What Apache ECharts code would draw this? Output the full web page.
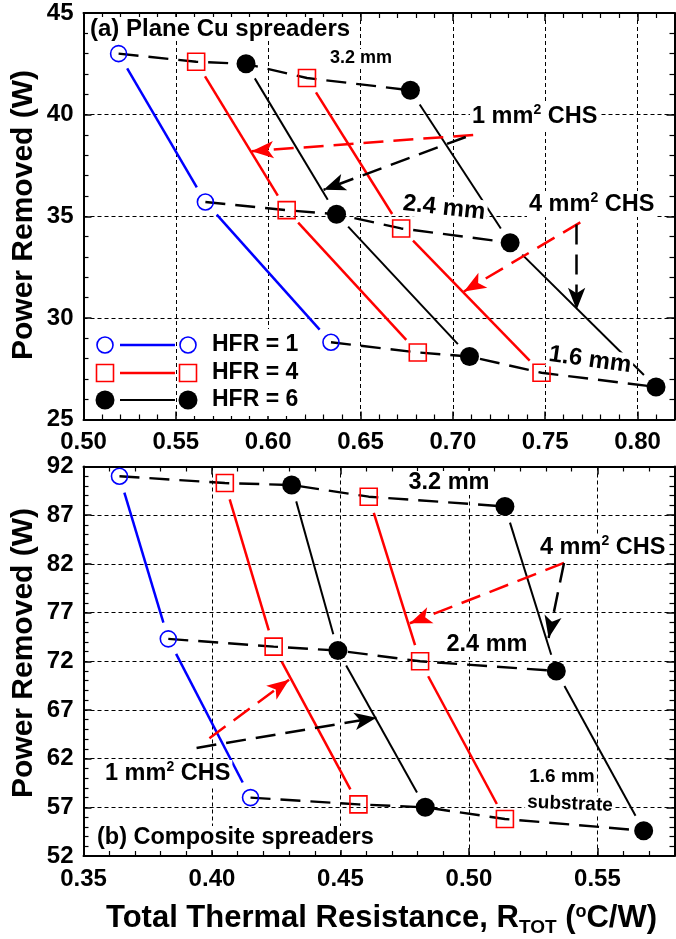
<!DOCTYPE html>
<html>
<head>
<meta charset="utf-8">
<script src="https://cdn.jsdelivr.net/npm/echarts@6/dist/echarts.min.js"></script>
<style>
html, body { margin: 0; padding: 0; background: #fff; }
#chart { width: 676px; height: 939px; }
</style>
</head>
<body>
<div id="chart"></div>
<script>
// (a) plane Cu spreaders, points ordered 3.2 / 2.4 / 1.6 mm substrate: [R_TOT, power]
const aHfr1 = [[0.519, 43.0], [0.566, 35.7], [0.634, 28.8]];
const aHfr4Chs1 = [[0.561, 42.6], [0.610, 35.3], [0.681, 28.3]];
const aHfr6Chs1 = [[0.588, 42.5], [0.637, 35.1], [0.709, 28.1]];
const aHfr4Chs4 = [[0.621, 41.8], [0.672, 34.4], [0.748, 27.3]];
const aHfr6Chs4 = [[0.677, 41.2], [0.731, 33.7], [0.810, 26.6]];
// (b) composite spreaders
const bHfr1 = [[0.364, 91.0], [0.383, 74.3], [0.415, 58.0]];
const bHfr4Chs1 = [[0.405, 90.3], [0.424, 73.5], [0.457, 57.3]];
const bHfr6Chs1 = [[0.431, 90.1], [0.449, 73.1], [0.483, 57.0]];
const bHfr4Chs4 = [[0.461, 88.9], [0.481, 72.0], [0.514, 55.8]];
const bHfr6Chs4 = [[0.514, 87.9], [0.534, 71.0], [0.568, 54.6]];

// annotation arrows [from, to]
const aArrowsRed = [[[0.711, 39.0], [0.591, 38.2]], [[0.769, 34.7], [0.706, 31.3]]];
const aArrowsBlack = [[[0.707, 38.9], [0.630, 36.3]], [[0.767, 34.6], [0.767, 30.4]]];
const bArrowsRed = [[[0.537, 82.1], [0.477, 75.9]], [[0.399, 64.1], [0.430, 70.1]]];
const bArrowsBlack = [[[0.537, 82.1], [0.531, 74.4]], [[0.394, 63.1], [0.464, 66.2]]];

const FONT = '"Liberation Sans", Arial, sans-serif';
const BLUE = '#0000ff', RED = '#ff0000', BLACK = '#000000';
const GAP = 17;

const chart = echarts.init(document.getElementById('chart'));

function xAxes(grid, min, max) {
  const base = {
    gridIndex: grid, type: 'value', min: min, max: max, interval: 0.05,
    axisLine: { show: true, onZero: false, lineStyle: { color: BLACK, width: 2 } },
    axisTick: { show: true, inside: true, length: 8, lineStyle: { color: BLACK, width: 1.5 } },
    minorTick: { show: true, splitNumber: 5, length: 5, lineStyle: { color: BLACK, width: 1.2 } }
  };
  return [
    Object.assign({}, base, {
      position: 'bottom',
      axisLabel: { show: true, margin: 11, color: BLACK, fontFamily: FONT, fontWeight: 'bold', fontSize: 24,
        showMaxLabel: false, formatter: v => v.toFixed(2) },
      splitLine: { show: true, lineStyle: { color: BLACK, width: 1, type: [4, 3] } }
    }),
    Object.assign({}, base, { position: 'top', axisLabel: { show: false }, splitLine: { show: false } })
  ];
}

function yAxes(grid, min, max) {
  const base = {
    gridIndex: grid, type: 'value', min: min, max: max, interval: 5,
    axisLine: { show: true, onZero: false, lineStyle: { color: BLACK, width: 2 } },
    axisTick: { show: true, inside: true, length: 8, lineStyle: { color: BLACK, width: 1.5 } },
    minorTick: { show: true, splitNumber: 5, length: 5, lineStyle: { color: BLACK, width: 1.2 } }
  };
  return [
    Object.assign({}, base, {
      position: 'left',
      axisLabel: { show: true, margin: 10, color: BLACK, fontFamily: FONT, fontWeight: 'bold', fontSize: 24 },
      splitLine: { show: true, lineStyle: { color: BLACK, width: 1, type: [4, 3] } }
    }),
    Object.assign({}, base, { position: 'right', axisLabel: { show: false }, splitLine: { show: false } })
  ];
}

// dashed line through all points of one substrate thickness
function thicknessLine(g, pts) {
  return {
    type: 'line', xAxisIndex: g * 2, yAxisIndex: g * 2, data: pts.slice().sort((p, q) => p[0] - q[0]),
    symbol: 'none', silent: true, z: 2,
    lineStyle: { color: BLACK, width: 2.4, type: [20, 10] }
  };
}

// solid line of one HFR / CHS, stopped short of the markers
function hfrLine(g, pts, color, width) {
  const segs = [];
  for (let i = 0; i < pts.length - 1; i++) segs.push([pts[i][0], pts[i][1], pts[i + 1][0], pts[i + 1][1]]);
  return {
    type: 'custom', xAxisIndex: g * 2, yAxisIndex: g * 2, data: segs, silent: true, z: 3,
    renderItem: function (params, api) {
      const p1 = api.coord([api.value(0), api.value(1)]);
      const p2 = api.coord([api.value(2), api.value(3)]);
      const dx = p2[0] - p1[0], dy = p2[1] - p1[1];
      const len = Math.sqrt(dx * dx + dy * dy);
      const ux = dx / len, uy = dy / len;
      return {
        type: 'line',
        shape: { x1: p1[0] + ux * GAP, y1: p1[1] + uy * GAP, x2: p2[0] - ux * GAP, y2: p2[1] - uy * GAP },
        style: { stroke: color, lineWidth: width }
      };
    }
  };
}

function markers(g, pts, symbol, size, color, filled) {
  return {
    type: 'scatter', xAxisIndex: g * 2, yAxisIndex: g * 2, data: pts, symbol: symbol, symbolSize: size,
    silent: true, z: 4,
    itemStyle: filled ? { color: color, opacity: 1 }
      : { color: 'rgba(0,0,0,0)', borderColor: color, borderWidth: 1.6, opacity: 1 }
  };
}

function arrows(g, list, color) {
  return {
    type: 'line', xAxisIndex: g * 2, yAxisIndex: g * 2, data: [], silent: true, z: 5,
    markLine: {
      silent: true, animation: false, symbol: ['none', 'arrow'], symbolSize: [13, 22],
      label: { show: false },
      lineStyle: { color: color, width: 2.5, type: [20, 10] },
      data: list.map(a => [{ coord: a[0] }, { coord: a[1] }])
    }
  };
}

function panelSeries(g, h1, h4a, h6a, h4b, h6b) {
  const s = [];
  for (let i = 0; i < 3; i++) s.push(thicknessLine(g, [h1[i], h4a[i], h6a[i], h4b[i], h6b[i]]));
  s.push(hfrLine(g, h1, BLUE, 2.5));
  s.push(hfrLine(g, h4a, RED, 2.5));
  s.push(hfrLine(g, h4b, RED, 2.5));
  s.push(hfrLine(g, h6a, BLACK, 2));
  s.push(hfrLine(g, h6b, BLACK, 2));
  s.push(markers(g, h1, 'circle', 16, BLUE, false));
  s.push(markers(g, h4a.concat(h4b), 'rect', 17, RED, false));
  s.push(markers(g, h6a.concat(h6b), 'circle', 19, BLACK, true));
  return s;
}

const series = []
  .concat(panelSeries(0, aHfr1, aHfr4Chs1, aHfr6Chs1, aHfr4Chs4, aHfr6Chs4))
  .concat(panelSeries(1, bHfr1, bHfr4Chs1, bHfr6Chs1, bHfr4Chs4, bHfr6Chs4));
series.push(arrows(0, aArrowsRed, RED), arrows(0, aArrowsBlack, BLACK));
series.push(arrows(1, bArrowsRed, RED), arrows(1, bArrowsBlack, BLACK));

// text helpers
const supRich = {
  n: { fontFamily: FONT, fontWeight: 'bold', fontSize: 23.5, lineHeight: 26, verticalAlign: 'bottom' },
  s: { fontFamily: FONT, fontWeight: 'bold', fontSize: 14, lineHeight: 14, verticalAlign: 'top' }
};
function label(x, y, text, size, align, rot, rich) {
  return {
    type: 'text', x: x, y: y, rotation: rot || 0, z: 10, silent: true,
    style: {
      text: text, fill: BLACK, fontFamily: FONT, fontWeight: 'bold', fontSize: size,
      align: align, verticalAlign: 'middle', backgroundColor: '#fff', padding: [0, 2],
      rich: rich
    }
  };
}

const legendRows = [
  { y: 345, name: 'HFR = 1', color: BLUE, kind: 'open' },
  { y: 373, name: 'HFR = 4', color: RED, kind: 'square' },
  { y: 400, name: 'HFR = 6', color: BLACK, kind: 'dot' }
];
const legendEls = [{ type: 'rect', shape: { x: 181, y: 329, width: 124, height: 87 }, style: { fill: '#fff' }, z: 1, silent: true }];
legendRows.forEach(r => {
  [105, 188].forEach(cx => {
    if (r.kind === 'square') {
      legendEls.push({ type: 'rect', shape: { x: cx - 8.5, y: r.y - 8.5, width: 17, height: 17 },
        style: { fill: 'none', stroke: r.color, lineWidth: 1.6 }, z: 10, silent: true });
    } else {
      legendEls.push({ type: 'circle', shape: { cx: cx, cy: r.y, r: r.kind === 'dot' ? 9.5 : 8 },
        style: r.kind === 'dot' ? { fill: r.color } : { fill: 'none', stroke: r.color, lineWidth: 1.6 }, z: 10, silent: true });
    }
  });
  legendEls.push({ type: 'line', shape: { x1: 120, y1: r.y, x2: 175, y2: r.y },
    style: { stroke: r.color, lineWidth: r.kind === 'dot' ? 2 : 2.5 }, z: 10, silent: true });
  legendEls.push({ type: 'text', x: 212, y: r.y, z: 10, silent: true,
    style: { text: r.name, fill: BLACK, fontFamily: FONT, fontWeight: 'bold', fontSize: 23, align: 'left', verticalAlign: 'middle' } });
});

const graphics = [
  label(88, 29, '(a) Plane Cu spreaders', 24, 'left'),
  label(361, 58, '3.2 mm', 18, 'center'),
  label(470, 116, '{n|1 mm}{s|2}{n| CHS}', 23.5, 'left', 0, supRich),
  label(444, 208, '2.4 mm', 24, 'center', -0.11),
  label(527, 204, '{n|4 mm}{s|2}{n| CHS}', 23.5, 'left', 0, supRich),
  label(590, 360, '1.6 mm', 24, 'center', -0.14),

  label(449, 483, '3.2 mm', 23.5, 'center'),
  label(538, 547, '{n|4 mm}{s|2}{n| CHS}', 23.5, 'left', 0, supRich),
  label(487, 645, '2.4 mm', 23.5, 'center'),
  label(103, 773, '{n|1 mm}{s|2}{n| CHS}', 23.5, 'left', 0, supRich),
  label(562, 777, '1.6 mm', 19, 'center'),
  label(570, 804, 'substrate', 19, 'center', -0.04),
  label(95, 838, '(b) Composite spreaders', 23.5, 'left'),

  { type: 'text', x: 24, y: 215, rotation: Math.PI / 2, silent: true,
    style: { text: 'Power Removed (W)', fill: BLACK, fontFamily: FONT, fontWeight: 'bold', fontSize: 30, align: 'center', verticalAlign: 'middle' } },
  { type: 'text', x: 24, y: 653, rotation: Math.PI / 2, silent: true,
    style: { text: 'Power Removed (W)', fill: BLACK, fontFamily: FONT, fontWeight: 'bold', fontSize: 30, align: 'center', verticalAlign: 'middle' } },
  { type: 'text', x: 106, y: 920, silent: true,
    style: {
      text: '{n|Total Thermal Resistance, R}{sub|TOT}{n| (}{s|o}{n|C/W)}', fill: BLACK, align: 'left', verticalAlign: 'middle',
      rich: {
        n: { fontFamily: FONT, fontWeight: 'bold', fontSize: 31, lineHeight: 34, padding: [0, 0, 6, 0], verticalAlign: 'top' },
        sub: { fontFamily: FONT, fontWeight: 'bold', fontSize: 19, lineHeight: 19, verticalAlign: 'bottom' },
        s: { fontFamily: FONT, fontWeight: 'bold', fontSize: 18, lineHeight: 18, verticalAlign: 'top' }
      }
    } }
].concat(legendEls);

chart.setOption({
  animation: false,
  backgroundColor: '#fff',
  grid: [
    { left: 83.5, right: 1.5, top: 13, bottom: 519.5 },
    { left: 83.5, right: 1.5, top: 466.5, bottom: 83 }
  ],
  xAxis: xAxes(0, 0.50, 0.82).concat(xAxes(1, 0.35, 0.58)),
  yAxis: yAxes(0, 25, 45).concat(yAxes(1, 52, 92)),
  series: series,
  graphic: graphics
});
</script>
</body>
</html>
